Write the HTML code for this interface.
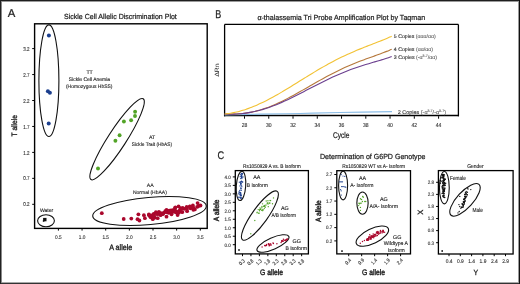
<!DOCTYPE html>
<html><head><meta charset="utf-8"><style>
html,body{margin:0;padding:0;background:#fff;}
body{width:520px;height:284px;overflow:hidden;position:relative;font-family:"Liberation Sans",sans-serif;}
svg{position:absolute;left:0;top:0;will-change:transform;text-rendering:geometricPrecision;}
</style></head><body>
<svg width="520" height="284" viewBox="0 0 520 284" font-family="Liberation Sans, sans-serif">
<rect x="0" y="0" width="520" height="284" fill="#fff"/>
<rect x="0" y="1" width="520" height="1" fill="#9a9a9a"/>
<rect x="0" y="282" width="520" height="1" fill="#a8a8a8"/>
<rect x="1" y="0" width="1" height="284" fill="#8a8a8a"/>
<rect x="518" y="0" width="1" height="284" fill="#9a9a9a"/>
<rect x="0" y="0" width="520" height="1" fill="#1e1e1e"/>
<rect x="0" y="283" width="520" height="1" fill="#333"/>
<rect x="0" y="0" width="1" height="284" fill="#222"/>
<rect x="519" y="0" width="1" height="284" fill="#111"/>
<text x="7.80" y="17.30" font-size="11.3" fill="#222" text-anchor="start" stroke="#222" stroke-width="0.22" >A</text>
<text x="64.00" y="19.00" font-size="7.4" fill="#222" text-anchor="start" stroke="#222" stroke-width="0.22" textLength="112.80" lengthAdjust="spacingAndGlyphs" >Sickle Cell Allelic Discrimination Plot</text>
<rect x="34.60" y="23.80" width="172.60" height="204.60" fill="none" stroke="#000" stroke-width="1.4"/>
<line x1="32.20" y1="48.60" x2="34.60" y2="48.60" stroke="#000" stroke-width="1"/>
<text x="29.50" y="50.70" font-size="5.6" fill="#333" text-anchor="end" stroke="#333" stroke-width="0.12" textLength="6.30" lengthAdjust="spacingAndGlyphs" >3.2</text>
<line x1="32.20" y1="74.55" x2="34.60" y2="74.55" stroke="#000" stroke-width="1"/>
<text x="29.50" y="76.65" font-size="5.6" fill="#333" text-anchor="end" stroke="#333" stroke-width="0.12" textLength="6.30" lengthAdjust="spacingAndGlyphs" >2.7</text>
<line x1="32.20" y1="100.50" x2="34.60" y2="100.50" stroke="#000" stroke-width="1"/>
<text x="29.50" y="102.60" font-size="5.6" fill="#333" text-anchor="end" stroke="#333" stroke-width="0.12" textLength="6.30" lengthAdjust="spacingAndGlyphs" >2.2</text>
<line x1="32.20" y1="126.45" x2="34.60" y2="126.45" stroke="#000" stroke-width="1"/>
<text x="29.50" y="128.55" font-size="5.6" fill="#333" text-anchor="end" stroke="#333" stroke-width="0.12" textLength="6.30" lengthAdjust="spacingAndGlyphs" >1.7</text>
<line x1="32.20" y1="152.40" x2="34.60" y2="152.40" stroke="#000" stroke-width="1"/>
<text x="29.50" y="154.50" font-size="5.6" fill="#333" text-anchor="end" stroke="#333" stroke-width="0.12" textLength="6.30" lengthAdjust="spacingAndGlyphs" >1.2</text>
<line x1="32.20" y1="178.35" x2="34.60" y2="178.35" stroke="#000" stroke-width="1"/>
<text x="29.50" y="180.45" font-size="5.6" fill="#333" text-anchor="end" stroke="#333" stroke-width="0.12" textLength="6.30" lengthAdjust="spacingAndGlyphs" >0.7</text>
<line x1="32.20" y1="204.30" x2="34.60" y2="204.30" stroke="#000" stroke-width="1"/>
<text x="29.50" y="206.40" font-size="5.6" fill="#333" text-anchor="end" stroke="#333" stroke-width="0.12" textLength="6.30" lengthAdjust="spacingAndGlyphs" >0.2</text>
<line x1="58.40" y1="228.40" x2="58.40" y2="230.60" stroke="#000" stroke-width="1"/>
<text x="58.40" y="238.90" font-size="5.4" fill="#333" text-anchor="middle" stroke="#333" stroke-width="0.12" textLength="6.60" lengthAdjust="spacingAndGlyphs" >0.5</text>
<line x1="82.05" y1="228.40" x2="82.05" y2="230.60" stroke="#000" stroke-width="1"/>
<text x="82.05" y="238.90" font-size="5.4" fill="#333" text-anchor="middle" stroke="#333" stroke-width="0.12" textLength="6.60" lengthAdjust="spacingAndGlyphs" >1.0</text>
<line x1="105.70" y1="228.40" x2="105.70" y2="230.60" stroke="#000" stroke-width="1"/>
<text x="105.70" y="238.90" font-size="5.4" fill="#333" text-anchor="middle" stroke="#333" stroke-width="0.12" textLength="6.60" lengthAdjust="spacingAndGlyphs" >1.5</text>
<line x1="129.35" y1="228.40" x2="129.35" y2="230.60" stroke="#000" stroke-width="1"/>
<text x="129.35" y="238.90" font-size="5.4" fill="#333" text-anchor="middle" stroke="#333" stroke-width="0.12" textLength="6.60" lengthAdjust="spacingAndGlyphs" >2.0</text>
<line x1="153.00" y1="228.40" x2="153.00" y2="230.60" stroke="#000" stroke-width="1"/>
<text x="153.00" y="238.90" font-size="5.4" fill="#333" text-anchor="middle" stroke="#333" stroke-width="0.12" textLength="6.60" lengthAdjust="spacingAndGlyphs" >2.5</text>
<line x1="176.65" y1="228.40" x2="176.65" y2="230.60" stroke="#000" stroke-width="1"/>
<text x="176.65" y="238.90" font-size="5.4" fill="#333" text-anchor="middle" stroke="#333" stroke-width="0.12" textLength="6.60" lengthAdjust="spacingAndGlyphs" >3.0</text>
<line x1="200.30" y1="228.40" x2="200.30" y2="230.60" stroke="#000" stroke-width="1"/>
<text x="200.30" y="238.90" font-size="5.4" fill="#333" text-anchor="middle" stroke="#333" stroke-width="0.12" textLength="6.60" lengthAdjust="spacingAndGlyphs" >3.5</text>
<text x="109.20" y="250.00" font-size="7.9" fill="#222" text-anchor="start" stroke="#222" stroke-width="0.35" textLength="23.10" lengthAdjust="spacingAndGlyphs" >A allele</text>
<text x="0" y="0" font-size="7.9" fill="#222" stroke="#222" stroke-width="0.35" font-family="Liberation Sans, sans-serif" textLength="21.4" lengthAdjust="spacingAndGlyphs" transform="translate(16.7,136.4) rotate(-90)">T allele</text>
<ellipse cx="48.90" cy="80.70" rx="10.00" ry="55.80" transform="rotate(0.00 48.90 80.70)" fill="none" stroke="#111" stroke-width="1.1"/>
<ellipse cx="117.10" cy="139.20" rx="48.10" ry="9.00" transform="rotate(-57.10 117.10 139.20)" fill="none" stroke="#111" stroke-width="1.1"/>
<ellipse cx="149.50" cy="211.00" rx="57.00" ry="13.60" transform="rotate(-5.20 149.50 211.00)" fill="none" stroke="#111" stroke-width="1.1"/>
<ellipse cx="46.00" cy="220.70" rx="8.40" ry="6.00" transform="rotate(0.00 46.00 220.70)" fill="none" stroke="#111" stroke-width="1.1"/>
<text x="89.60" y="74.30" font-size="5.2" fill="#222" text-anchor="middle" stroke="#222" stroke-width="0.12" >TT</text>
<text x="89.40" y="80.90" font-size="5.2" fill="#222" text-anchor="middle" stroke="#222" stroke-width="0.12" textLength="41.30" lengthAdjust="spacingAndGlyphs" >Sickle Cell Anemia</text>
<text x="89.20" y="87.90" font-size="5.2" fill="#222" text-anchor="middle" stroke="#222" stroke-width="0.12" textLength="46.50" lengthAdjust="spacingAndGlyphs" >(Homozygous HbSS)</text>
<text x="152.10" y="139.00" font-size="5.2" fill="#222" text-anchor="middle" stroke="#222" stroke-width="0.12" >AT</text>
<text x="151.90" y="145.70" font-size="5.2" fill="#222" text-anchor="middle" stroke="#222" stroke-width="0.12" textLength="40.40" lengthAdjust="spacingAndGlyphs" >Sickle Trait (HbAS)</text>
<text x="150.20" y="187.10" font-size="5.2" fill="#222" text-anchor="middle" stroke="#222" stroke-width="0.12" >AA</text>
<text x="149.90" y="193.70" font-size="5.2" fill="#222" text-anchor="middle" stroke="#222" stroke-width="0.12" textLength="34.00" lengthAdjust="spacingAndGlyphs" >Normal (HbAA)</text>
<text x="46.60" y="211.90" font-size="5.2" fill="#222" text-anchor="middle" stroke="#222" stroke-width="0.12" textLength="13.30" lengthAdjust="spacingAndGlyphs" >Water</text>
<circle cx="48.90" cy="35.40" r="2.0" fill="#1c3f8e"/>
<circle cx="47.90" cy="91.20" r="2.0" fill="#1c3f8e"/>
<circle cx="49.90" cy="92.70" r="2.0" fill="#1c3f8e"/>
<circle cx="48.70" cy="123.50" r="2.0" fill="#1c3f8e"/>
<circle cx="135.10" cy="111.80" r="1.95" fill="#52a427"/>
<circle cx="135.00" cy="116.00" r="1.95" fill="#52a427"/>
<circle cx="131.10" cy="120.20" r="1.95" fill="#52a427"/>
<circle cx="123.90" cy="121.50" r="1.95" fill="#52a427"/>
<circle cx="119.60" cy="135.20" r="1.95" fill="#52a427"/>
<circle cx="115.40" cy="140.80" r="1.95" fill="#52a427"/>
<circle cx="98.00" cy="168.50" r="1.95" fill="#52a427"/>
<circle cx="101.80" cy="213.20" r="1.9" fill="#aa072c"/>
<circle cx="123.70" cy="219.00" r="1.9" fill="#aa072c"/>
<circle cx="131.30" cy="218.60" r="1.9" fill="#aa072c"/>
<circle cx="138.40" cy="214.30" r="1.9" fill="#aa072c"/>
<circle cx="137.50" cy="219.20" r="1.9" fill="#aa072c"/>
<circle cx="139.40" cy="220.50" r="1.9" fill="#aa072c"/>
<circle cx="143.90" cy="215.20" r="1.9" fill="#aa072c"/>
<circle cx="144.90" cy="218.20" r="1.9" fill="#aa072c"/>
<circle cx="149.80" cy="215.70" r="1.9" fill="#aa072c"/>
<circle cx="151.70" cy="217.20" r="1.9" fill="#aa072c"/>
<circle cx="153.70" cy="213.80" r="1.9" fill="#aa072c"/>
<circle cx="154.70" cy="217.70" r="1.9" fill="#aa072c"/>
<circle cx="157.70" cy="218.20" r="1.9" fill="#aa072c"/>
<circle cx="158.60" cy="213.80" r="1.9" fill="#aa072c"/>
<circle cx="160.60" cy="215.20" r="1.9" fill="#aa072c"/>
<circle cx="163.60" cy="212.80" r="1.9" fill="#aa072c"/>
<circle cx="166.50" cy="209.80" r="1.9" fill="#aa072c"/>
<circle cx="166.50" cy="216.70" r="1.9" fill="#aa072c"/>
<circle cx="168.50" cy="212.80" r="1.9" fill="#aa072c"/>
<circle cx="172.40" cy="210.30" r="1.9" fill="#aa072c"/>
<circle cx="171.50" cy="214.30" r="1.9" fill="#aa072c"/>
<circle cx="173.90" cy="211.80" r="1.9" fill="#aa072c"/>
<circle cx="171.00" cy="212.60" r="1.9" fill="#aa072c"/>
<circle cx="173.80" cy="210.20" r="1.9" fill="#aa072c"/>
<circle cx="178.60" cy="206.40" r="1.9" fill="#aa072c"/>
<circle cx="177.60" cy="215.00" r="1.9" fill="#aa072c"/>
<circle cx="179.50" cy="210.70" r="1.9" fill="#aa072c"/>
<circle cx="182.40" cy="212.10" r="1.9" fill="#aa072c"/>
<circle cx="184.30" cy="208.80" r="1.9" fill="#aa072c"/>
<circle cx="186.70" cy="206.90" r="1.9" fill="#aa072c"/>
<circle cx="187.10" cy="211.20" r="1.9" fill="#aa072c"/>
<circle cx="190.50" cy="208.30" r="1.9" fill="#aa072c"/>
<circle cx="192.90" cy="205.50" r="1.9" fill="#aa072c"/>
<circle cx="193.30" cy="209.80" r="1.9" fill="#aa072c"/>
<circle cx="197.60" cy="203.10" r="1.9" fill="#aa072c"/>
<circle cx="198.60" cy="206.00" r="1.9" fill="#aa072c"/>
<circle cx="200.50" cy="205.50" r="1.9" fill="#aa072c"/>
<circle cx="197.10" cy="206.90" r="1.9" fill="#aa072c"/>
<circle cx="162.87" cy="214.18" r="1.9" fill="#aa072c"/>
<circle cx="150.55" cy="217.18" r="1.9" fill="#aa072c"/>
<circle cx="173.26" cy="210.38" r="1.9" fill="#aa072c"/>
<circle cx="171.86" cy="211.44" r="1.9" fill="#aa072c"/>
<circle cx="148.84" cy="215.08" r="1.9" fill="#aa072c"/>
<circle cx="151.44" cy="215.36" r="1.9" fill="#aa072c"/>
<circle cx="167.80" cy="212.22" r="1.9" fill="#aa072c"/>
<circle cx="157.94" cy="213.08" r="1.9" fill="#aa072c"/>
<circle cx="177.74" cy="211.84" r="1.9" fill="#aa072c"/>
<circle cx="166.44" cy="211.44" r="1.9" fill="#aa072c"/>
<circle cx="194.84" cy="209.46" r="1.9" fill="#aa072c"/>
<circle cx="161.19" cy="214.07" r="1.9" fill="#aa072c"/>
<circle cx="154.07" cy="215.60" r="1.9" fill="#aa072c"/>
<circle cx="186.99" cy="208.93" r="1.9" fill="#aa072c"/>
<circle cx="155.86" cy="212.24" r="1.9" fill="#aa072c"/>
<circle cx="165.25" cy="211.23" r="1.9" fill="#aa072c"/>
<circle cx="173.84" cy="211.15" r="1.9" fill="#aa072c"/>
<circle cx="157.09" cy="214.20" r="1.9" fill="#aa072c"/>
<circle cx="180.34" cy="208.08" r="1.9" fill="#aa072c"/>
<circle cx="175.69" cy="210.87" r="1.9" fill="#aa072c"/>
<circle cx="169.21" cy="210.68" r="1.9" fill="#aa072c"/>
<circle cx="181.25" cy="211.86" r="1.9" fill="#aa072c"/>
<circle cx="158.96" cy="211.86" r="1.9" fill="#aa072c"/>
<circle cx="189.88" cy="206.54" r="1.9" fill="#aa072c"/>
<circle cx="182.74" cy="207.79" r="1.9" fill="#aa072c"/>
<circle cx="152.79" cy="219.20" r="1.9" fill="#aa072c"/>
<circle cx="167.49" cy="211.94" r="1.9" fill="#aa072c"/>
<circle cx="170.96" cy="210.29" r="1.9" fill="#aa072c"/>
<circle cx="148.92" cy="214.28" r="1.9" fill="#aa072c"/>
<circle cx="175.08" cy="208.01" r="1.9" fill="#aa072c"/>
<circle cx="189.90" cy="206.46" r="1.9" fill="#aa072c"/>
<circle cx="176.12" cy="212.45" r="1.9" fill="#aa072c"/>
<circle cx="175.41" cy="207.37" r="1.9" fill="#aa072c"/>
<circle cx="193.29" cy="207.57" r="1.9" fill="#aa072c"/>
<circle cx="170.23" cy="211.06" r="1.9" fill="#aa072c"/>
<circle cx="181.37" cy="208.64" r="1.9" fill="#aa072c"/>
<circle cx="178.71" cy="212.63" r="1.9" fill="#aa072c"/>
<circle cx="160.95" cy="213.08" r="1.9" fill="#aa072c"/>
<circle cx="165.90" cy="212.05" r="1.9" fill="#aa072c"/>
<circle cx="169.62" cy="211.18" r="1.9" fill="#aa072c"/>
<rect x="43.1" y="217.9" width="3.4" height="3.4" fill="#111"/>
<circle cx="43.60" cy="220.90" r="0.9" fill="#111"/>
<text x="215.2" y="17.7" font-size="11.4" fill="#222" stroke="#222" stroke-width="0.25" font-family="Liberation Sans, sans-serif" textLength="6.0" lengthAdjust="spacingAndGlyphs">B</text>
<text x="257.40" y="19.80" font-size="7.4" fill="#222" text-anchor="start" stroke="#222" stroke-width="0.22" textLength="167.70" lengthAdjust="spacingAndGlyphs" >α-thalassemia Tri Probe Amplification Plot by Taqman</text>
<line x1="224.60" y1="24.40" x2="458.40" y2="24.40" stroke="#000" stroke-width="1.3"/>
<line x1="224.60" y1="24.40" x2="224.60" y2="116.30" stroke="#000" stroke-width="1.3"/>
<line x1="458.40" y1="24.40" x2="458.40" y2="116.30" stroke="#000" stroke-width="1.3"/>
<line x1="224.00" y1="115.60" x2="459.00" y2="115.60" stroke="#000" stroke-width="1.5"/>
<line x1="244.50" y1="116.20" x2="244.50" y2="118.70" stroke="#000" stroke-width="1"/>
<text x="244.50" y="127.10" font-size="5.8" fill="#333" text-anchor="middle" stroke="#333" stroke-width="0.12" textLength="5.60" lengthAdjust="spacingAndGlyphs" >28</text>
<line x1="268.76" y1="116.20" x2="268.76" y2="118.70" stroke="#000" stroke-width="1"/>
<text x="268.76" y="127.10" font-size="5.8" fill="#333" text-anchor="middle" stroke="#333" stroke-width="0.12" textLength="5.60" lengthAdjust="spacingAndGlyphs" >30</text>
<line x1="293.02" y1="116.20" x2="293.02" y2="118.70" stroke="#000" stroke-width="1"/>
<text x="293.02" y="127.10" font-size="5.8" fill="#333" text-anchor="middle" stroke="#333" stroke-width="0.12" textLength="5.60" lengthAdjust="spacingAndGlyphs" >32</text>
<line x1="317.28" y1="116.20" x2="317.28" y2="118.70" stroke="#000" stroke-width="1"/>
<text x="317.28" y="127.10" font-size="5.8" fill="#333" text-anchor="middle" stroke="#333" stroke-width="0.12" textLength="5.60" lengthAdjust="spacingAndGlyphs" >34</text>
<line x1="341.54" y1="116.20" x2="341.54" y2="118.70" stroke="#000" stroke-width="1"/>
<text x="341.54" y="127.10" font-size="5.8" fill="#333" text-anchor="middle" stroke="#333" stroke-width="0.12" textLength="5.60" lengthAdjust="spacingAndGlyphs" >36</text>
<line x1="365.80" y1="116.20" x2="365.80" y2="118.70" stroke="#000" stroke-width="1"/>
<text x="365.80" y="127.10" font-size="5.8" fill="#333" text-anchor="middle" stroke="#333" stroke-width="0.12" textLength="5.60" lengthAdjust="spacingAndGlyphs" >38</text>
<line x1="390.06" y1="116.20" x2="390.06" y2="118.70" stroke="#000" stroke-width="1"/>
<text x="390.06" y="127.10" font-size="5.8" fill="#333" text-anchor="middle" stroke="#333" stroke-width="0.12" textLength="5.60" lengthAdjust="spacingAndGlyphs" >40</text>
<line x1="414.32" y1="116.20" x2="414.32" y2="118.70" stroke="#000" stroke-width="1"/>
<text x="414.32" y="127.10" font-size="5.8" fill="#333" text-anchor="middle" stroke="#333" stroke-width="0.12" textLength="5.60" lengthAdjust="spacingAndGlyphs" >42</text>
<line x1="438.58" y1="116.20" x2="438.58" y2="118.70" stroke="#000" stroke-width="1"/>
<text x="438.58" y="127.10" font-size="5.8" fill="#333" text-anchor="middle" stroke="#333" stroke-width="0.12" textLength="5.60" lengthAdjust="spacingAndGlyphs" >44</text>
<text x="333.00" y="137.80" font-size="8.4" fill="#222" text-anchor="start" stroke="#222" stroke-width="0.22" textLength="16.50" lengthAdjust="spacingAndGlyphs" >Cycle</text>
<text x="0" y="0" font-size="6.2" fill="#222" font-family="Liberation Sans, sans-serif" textLength="13.4" lengthAdjust="spacingAndGlyphs" transform="translate(219.2,76.8) rotate(-90)">ΔRn</text>
<path d="M224.70,114.80 C230.58,114.70 247.45,114.42 260.00,114.20 C272.55,113.98 286.67,113.78 300.00,113.50 C313.33,113.22 324.67,112.82 340.00,112.50 C355.33,112.18 383.33,111.75 392.00,111.60" fill="none" stroke="#8cbde6" stroke-width="1.2" stroke-linejoin="round"/>
<path d="M224.70,114.06 C225.20,114.07 226.70,114.13 227.70,114.15 C228.70,114.18 229.70,114.19 230.70,114.19 C231.70,114.19 232.70,114.17 233.70,114.15 C234.70,114.12 235.70,114.08 236.70,114.03 C237.70,113.97 238.70,113.91 239.70,113.82 C240.70,113.74 241.70,113.64 242.70,113.53 C243.70,113.42 244.70,113.29 245.70,113.14 C246.70,113.00 247.70,112.84 248.70,112.66 C249.70,112.49 250.70,112.30 251.70,112.09 C252.70,111.88 253.70,111.66 254.70,111.42 C255.70,111.18 256.70,110.92 257.70,110.65 C258.70,110.38 259.70,110.09 260.70,109.79 C261.70,109.48 262.70,109.17 263.70,108.83 C264.70,108.50 265.70,108.15 266.70,107.79 C267.70,107.43 268.70,107.05 269.70,106.67 C270.70,106.28 271.70,105.87 272.70,105.46 C273.70,105.04 274.70,104.61 275.70,104.17 C276.70,103.73 277.70,103.28 278.70,102.82 C279.70,102.35 280.70,101.88 281.70,101.40 C282.70,100.91 283.70,100.42 284.70,99.92 C285.70,99.41 286.70,98.90 287.70,98.38 C288.70,97.86 289.70,97.33 290.70,96.80 C291.70,96.26 292.70,95.72 293.70,95.18 C294.70,94.63 295.70,94.08 296.70,93.52 C297.70,92.96 298.70,92.40 299.70,91.84 C300.70,91.27 301.70,90.70 302.70,90.13 C303.70,89.56 304.70,88.99 305.70,88.42 C306.70,87.84 307.70,87.27 308.70,86.70 C309.70,86.12 310.70,85.55 311.70,84.97 C312.70,84.40 313.70,83.83 314.70,83.26 C315.70,82.69 316.70,82.12 317.70,81.55 C318.70,80.99 319.70,80.43 320.70,79.87 C321.70,79.31 322.70,78.75 323.70,78.21 C324.70,77.66 325.70,77.11 326.70,76.57 C327.70,76.03 328.70,75.50 329.70,74.97 C330.70,74.45 331.70,73.93 332.70,73.41 C333.70,72.90 334.70,72.39 335.70,71.89 C336.70,71.39 337.70,70.90 338.70,70.41 C339.70,69.93 340.70,69.45 341.70,68.98 C342.70,68.51 343.70,68.05 344.70,67.59 C345.70,67.14 346.70,66.69 347.70,66.25 C348.70,65.81 349.70,65.38 350.70,64.96 C351.70,64.53 352.70,64.12 353.70,63.71 C354.70,63.30 355.70,62.90 356.70,62.50 C357.70,62.11 358.70,61.72 359.70,61.33 C360.70,60.95 361.70,60.57 362.70,60.20 C363.70,59.83 364.70,59.46 365.70,59.09 C366.70,58.73 367.70,58.37 368.70,58.01 C369.70,57.65 370.70,57.29 371.70,56.94 C372.70,56.58 373.70,56.23 374.70,55.87 C375.70,55.51 376.70,55.15 377.70,54.79 C378.70,54.43 379.70,54.07 380.70,53.70 C381.70,53.32 382.70,52.95 383.70,52.56 C384.70,52.18 385.70,51.79 386.70,51.38 C387.70,50.98 388.87,50.49 389.70,50.14 C390.53,49.78 391.37,49.40 391.70,49.26" fill="none" stroke="#b5773a" stroke-width="1.1" stroke-linejoin="round"/>
<path d="M224.70,114.10 C225.20,114.11 226.70,114.15 227.70,114.15 C228.70,114.16 229.70,114.16 230.70,114.15 C231.70,114.14 232.70,114.12 233.70,114.09 C234.70,114.05 235.70,114.01 236.70,113.95 C237.70,113.90 238.70,113.83 239.70,113.75 C240.70,113.67 241.70,113.57 242.70,113.46 C243.70,113.36 244.70,113.23 245.70,113.10 C246.70,112.96 247.70,112.81 248.70,112.65 C249.70,112.49 250.70,112.31 251.70,112.12 C252.70,111.93 253.70,111.72 254.70,111.50 C255.70,111.28 256.70,111.05 257.70,110.80 C258.70,110.55 259.70,110.29 260.70,110.01 C261.70,109.73 262.70,109.44 263.70,109.14 C264.70,108.84 265.70,108.52 266.70,108.19 C267.70,107.86 268.70,107.52 269.70,107.17 C270.70,106.81 271.70,106.45 272.70,106.07 C273.70,105.69 274.70,105.30 275.70,104.90 C276.70,104.50 277.70,104.09 278.70,103.67 C279.70,103.25 280.70,102.82 281.70,102.38 C282.70,101.94 283.70,101.49 284.70,101.04 C285.70,100.58 286.70,100.12 287.70,99.64 C288.70,99.17 289.70,98.69 290.70,98.21 C291.70,97.72 292.70,97.23 293.70,96.74 C294.70,96.24 295.70,95.74 296.70,95.24 C297.70,94.73 298.70,94.22 299.70,93.71 C300.70,93.20 301.70,92.68 302.70,92.17 C303.70,91.65 304.70,91.13 305.70,90.61 C306.70,90.09 307.70,89.57 308.70,89.05 C309.70,88.53 310.70,88.01 311.70,87.50 C312.70,86.98 313.70,86.46 314.70,85.95 C315.70,85.43 316.70,84.92 317.70,84.41 C318.70,83.90 319.70,83.39 320.70,82.89 C321.70,82.39 322.70,81.89 323.70,81.39 C324.70,80.90 325.70,80.41 326.70,79.93 C327.70,79.44 328.70,78.96 329.70,78.49 C330.70,78.02 331.70,77.55 332.70,77.09 C333.70,76.63 334.70,76.18 335.70,75.73 C336.70,75.29 337.70,74.85 338.70,74.42 C339.70,73.99 340.70,73.56 341.70,73.15 C342.70,72.73 343.70,72.32 344.70,71.92 C345.70,71.52 346.70,71.13 347.70,70.74 C348.70,70.36 349.70,69.98 350.70,69.61 C351.70,69.24 352.70,68.88 353.70,68.53 C354.70,68.17 355.70,67.82 356.70,67.48 C357.70,67.14 358.70,66.81 359.70,66.48 C360.70,66.15 361.70,65.83 362.70,65.51 C363.70,65.20 364.70,64.89 365.70,64.58 C366.70,64.27 367.70,63.97 368.70,63.67 C369.70,63.37 370.70,63.08 371.70,62.78 C372.70,62.49 373.70,62.19 374.70,61.90 C375.70,61.61 376.70,61.32 377.70,61.02 C378.70,60.73 379.70,60.43 380.70,60.13 C381.70,59.83 382.70,59.53 383.70,59.22 C384.70,58.91 385.70,58.59 386.70,58.27 C387.70,57.94 388.87,57.55 389.70,57.26 C390.53,56.98 391.37,56.67 391.70,56.56" fill="none" stroke="#6b3f8f" stroke-width="1.1" stroke-linejoin="round"/>
<path d="M224.70,114.00 C225.20,113.94 226.70,113.77 227.70,113.64 C228.70,113.50 229.70,113.34 230.70,113.17 C231.70,113.00 232.70,112.82 233.70,112.61 C234.70,112.41 235.70,112.19 236.70,111.95 C237.70,111.72 238.70,111.47 239.70,111.20 C240.70,110.93 241.70,110.64 242.70,110.34 C243.70,110.04 244.70,109.73 245.70,109.40 C246.70,109.07 247.70,108.72 248.70,108.36 C249.70,108.00 250.70,107.62 251.70,107.23 C252.70,106.84 253.70,106.44 254.70,106.02 C255.70,105.61 256.70,105.18 257.70,104.73 C258.70,104.29 259.70,103.83 260.70,103.37 C261.70,102.90 262.70,102.42 263.70,101.93 C264.70,101.44 265.70,100.94 266.70,100.43 C267.70,99.92 268.70,99.39 269.70,98.86 C270.70,98.33 271.70,97.79 272.70,97.24 C273.70,96.69 274.70,96.14 275.70,95.57 C276.70,95.01 277.70,94.43 278.70,93.86 C279.70,93.28 280.70,92.69 281.70,92.10 C282.70,91.51 283.70,90.92 284.70,90.31 C285.70,89.71 286.70,89.11 287.70,88.50 C288.70,87.89 289.70,87.28 290.70,86.66 C291.70,86.05 292.70,85.43 293.70,84.81 C294.70,84.19 295.70,83.57 296.70,82.95 C297.70,82.33 298.70,81.71 299.70,81.09 C300.70,80.46 301.70,79.84 302.70,79.22 C303.70,78.60 304.70,77.98 305.70,77.36 C306.70,76.75 307.70,76.13 308.70,75.52 C309.70,74.90 310.70,74.29 311.70,73.69 C312.70,73.08 313.70,72.48 314.70,71.88 C315.70,71.28 316.70,70.68 317.70,70.09 C318.70,69.50 319.70,68.92 320.70,68.34 C321.70,67.76 322.70,67.19 323.70,66.62 C324.70,66.05 325.70,65.49 326.70,64.93 C327.70,64.38 328.70,63.83 329.70,63.28 C330.70,62.74 331.70,62.21 332.70,61.68 C333.70,61.15 334.70,60.63 335.70,60.11 C336.70,59.60 337.70,59.09 338.70,58.59 C339.70,58.09 340.70,57.60 341.70,57.11 C342.70,56.63 343.70,56.15 344.70,55.68 C345.70,55.21 346.70,54.75 347.70,54.29 C348.70,53.83 349.70,53.39 350.70,52.94 C351.70,52.50 352.70,52.06 353.70,51.63 C354.70,51.20 355.70,50.78 356.70,50.36 C357.70,49.94 358.70,49.53 359.70,49.12 C360.70,48.71 361.70,48.31 362.70,47.91 C363.70,47.51 364.70,47.12 365.70,46.72 C366.70,46.33 367.70,45.94 368.70,45.55 C369.70,45.16 370.70,44.78 371.70,44.39 C372.70,44.00 373.70,43.62 374.70,43.23 C375.70,42.84 376.70,42.45 377.70,42.06 C378.70,41.67 379.70,41.27 380.70,40.87 C381.70,40.47 382.70,40.07 383.70,39.66 C384.70,39.25 385.70,38.83 386.70,38.40 C387.70,37.97 388.87,37.46 389.70,37.09 C390.53,36.72 391.37,36.33 391.70,36.17" fill="none" stroke="#f2c234" stroke-width="1.1" stroke-linejoin="round"/>
<text x="393.8" y="38.3" font-size="5.2" fill="#333" stroke="#333" stroke-width="0.12" font-family="Liberation Sans, sans-serif" textLength="42.0" lengthAdjust="spacingAndGlyphs">5 Copies <tspan fill="#666" stroke="#666">(ααα/αα)</tspan></text>
<text x="393.8" y="50.8" font-size="5.2" fill="#333" stroke="#333" stroke-width="0.12" font-family="Liberation Sans, sans-serif" textLength="39.2" lengthAdjust="spacingAndGlyphs">4 Copies <tspan fill="#666" stroke="#666">(αα/αα)</tspan></text>
<text x="393.8" y="59.0" font-size="5.2" fill="#333" stroke="#333" stroke-width="0.12" font-family="Liberation Sans, sans-serif" textLength="43.2" lengthAdjust="spacingAndGlyphs">3 Copies <tspan fill="#666" stroke="#666">(-α</tspan><tspan dy="-1.8" font-size="3.6" fill="#666" stroke="#666">3.7</tspan><tspan dy="1.8" fill="#666" stroke="#666">/αα)</tspan></text>
<text x="397.7" y="113.7" font-size="5.4" fill="#333" stroke="#333" stroke-width="0.12" font-family="Liberation Sans, sans-serif" textLength="48.3" lengthAdjust="spacingAndGlyphs">2 Copies <tspan fill="#666" stroke="#666">(-α</tspan><tspan dy="-1.8" font-size="3.6" fill="#666" stroke="#666">3.7</tspan><tspan dy="1.8" fill="#666" stroke="#666">/-α</tspan><tspan dy="-1.8" font-size="3.6" fill="#666" stroke="#666">3.7</tspan><tspan dy="1.8" fill="#666" stroke="#666">)</tspan></text>
<text x="217.40" y="158.80" font-size="11.0" fill="#222" text-anchor="start" stroke="#222" stroke-width="0.22" textLength="6.60" lengthAdjust="spacingAndGlyphs" >C</text>
<text x="320.00" y="158.50" font-size="7.4" fill="#222" text-anchor="start" stroke="#222" stroke-width="0.22" textLength="105.50" lengthAdjust="spacingAndGlyphs" >Determination of G6PD Genotype</text>
<rect x="235.30" y="170.60" width="73.10" height="83.30" fill="none" stroke="#000" stroke-width="1.3"/>
<text x="243.10" y="167.80" font-size="5.4" fill="#222" text-anchor="start" stroke="#222" stroke-width="0.12" textLength="57.60" lengthAdjust="spacingAndGlyphs" >Rs1050829 A vs. B Isoform</text>
<line x1="232.80" y1="176.90" x2="235.30" y2="176.90" stroke="#000" stroke-width="1"/>
<text x="230.80" y="178.70" font-size="5.0" fill="#333" text-anchor="end" stroke="#333" stroke-width="0.12" textLength="6.30" lengthAdjust="spacingAndGlyphs" >4.0</text>
<line x1="232.80" y1="185.38" x2="235.30" y2="185.38" stroke="#000" stroke-width="1"/>
<text x="230.80" y="187.18" font-size="5.0" fill="#333" text-anchor="end" stroke="#333" stroke-width="0.12" textLength="6.30" lengthAdjust="spacingAndGlyphs" >3.5</text>
<line x1="232.80" y1="193.85" x2="235.30" y2="193.85" stroke="#000" stroke-width="1"/>
<text x="230.80" y="195.65" font-size="5.0" fill="#333" text-anchor="end" stroke="#333" stroke-width="0.12" textLength="6.30" lengthAdjust="spacingAndGlyphs" >3.0</text>
<line x1="232.80" y1="202.32" x2="235.30" y2="202.32" stroke="#000" stroke-width="1"/>
<text x="230.80" y="204.12" font-size="5.0" fill="#333" text-anchor="end" stroke="#333" stroke-width="0.12" textLength="6.30" lengthAdjust="spacingAndGlyphs" >2.5</text>
<line x1="232.80" y1="210.80" x2="235.30" y2="210.80" stroke="#000" stroke-width="1"/>
<text x="230.80" y="212.60" font-size="5.0" fill="#333" text-anchor="end" stroke="#333" stroke-width="0.12" textLength="6.30" lengthAdjust="spacingAndGlyphs" >2.0</text>
<line x1="232.80" y1="219.28" x2="235.30" y2="219.28" stroke="#000" stroke-width="1"/>
<text x="230.80" y="221.08" font-size="5.0" fill="#333" text-anchor="end" stroke="#333" stroke-width="0.12" textLength="6.30" lengthAdjust="spacingAndGlyphs" >1.5</text>
<line x1="232.80" y1="227.75" x2="235.30" y2="227.75" stroke="#000" stroke-width="1"/>
<text x="230.80" y="229.55" font-size="5.0" fill="#333" text-anchor="end" stroke="#333" stroke-width="0.12" textLength="6.30" lengthAdjust="spacingAndGlyphs" >1.0</text>
<line x1="232.80" y1="236.22" x2="235.30" y2="236.22" stroke="#000" stroke-width="1"/>
<text x="230.80" y="238.03" font-size="5.0" fill="#333" text-anchor="end" stroke="#333" stroke-width="0.12" textLength="6.30" lengthAdjust="spacingAndGlyphs" >0.5</text>
<line x1="232.80" y1="244.70" x2="235.30" y2="244.70" stroke="#000" stroke-width="1"/>
<text x="230.80" y="246.50" font-size="5.0" fill="#333" text-anchor="end" stroke="#333" stroke-width="0.12" textLength="6.30" lengthAdjust="spacingAndGlyphs" >0.0</text>
<line x1="242.50" y1="253.90" x2="242.50" y2="256.20" stroke="#000" stroke-width="1"/>
<text x="0" y="0" font-size="5.0" fill="#333" stroke="#333" stroke-width="0.1" font-family="Liberation Sans, sans-serif" text-anchor="end" textLength="6.4" lengthAdjust="spacingAndGlyphs" transform="translate(245.30,261.10) rotate(-45)">0.3</text>
<line x1="250.95" y1="253.90" x2="250.95" y2="256.20" stroke="#000" stroke-width="1"/>
<text x="0" y="0" font-size="5.0" fill="#333" stroke="#333" stroke-width="0.1" font-family="Liberation Sans, sans-serif" text-anchor="end" textLength="6.4" lengthAdjust="spacingAndGlyphs" transform="translate(253.75,261.10) rotate(-45)">0.8</text>
<line x1="259.40" y1="253.90" x2="259.40" y2="256.20" stroke="#000" stroke-width="1"/>
<text x="0" y="0" font-size="5.0" fill="#333" stroke="#333" stroke-width="0.1" font-family="Liberation Sans, sans-serif" text-anchor="end" textLength="6.4" lengthAdjust="spacingAndGlyphs" transform="translate(262.20,261.10) rotate(-45)">1.3</text>
<line x1="267.85" y1="253.90" x2="267.85" y2="256.20" stroke="#000" stroke-width="1"/>
<text x="0" y="0" font-size="5.0" fill="#333" stroke="#333" stroke-width="0.1" font-family="Liberation Sans, sans-serif" text-anchor="end" textLength="6.4" lengthAdjust="spacingAndGlyphs" transform="translate(270.65,261.10) rotate(-45)">1.8</text>
<line x1="276.30" y1="253.90" x2="276.30" y2="256.20" stroke="#000" stroke-width="1"/>
<text x="0" y="0" font-size="5.0" fill="#333" stroke="#333" stroke-width="0.1" font-family="Liberation Sans, sans-serif" text-anchor="end" textLength="6.4" lengthAdjust="spacingAndGlyphs" transform="translate(279.10,261.10) rotate(-45)">2.3</text>
<line x1="284.75" y1="253.90" x2="284.75" y2="256.20" stroke="#000" stroke-width="1"/>
<text x="0" y="0" font-size="5.0" fill="#333" stroke="#333" stroke-width="0.1" font-family="Liberation Sans, sans-serif" text-anchor="end" textLength="6.4" lengthAdjust="spacingAndGlyphs" transform="translate(287.55,261.10) rotate(-45)">2.8</text>
<line x1="293.20" y1="253.90" x2="293.20" y2="256.20" stroke="#000" stroke-width="1"/>
<text x="0" y="0" font-size="5.0" fill="#333" stroke="#333" stroke-width="0.1" font-family="Liberation Sans, sans-serif" text-anchor="end" textLength="6.4" lengthAdjust="spacingAndGlyphs" transform="translate(296.00,261.10) rotate(-45)">3.3</text>
<line x1="301.65" y1="253.90" x2="301.65" y2="256.20" stroke="#000" stroke-width="1"/>
<text x="0" y="0" font-size="5.0" fill="#333" stroke="#333" stroke-width="0.1" font-family="Liberation Sans, sans-serif" text-anchor="end" textLength="6.4" lengthAdjust="spacingAndGlyphs" transform="translate(304.45,261.10) rotate(-45)">3.8</text>
<text x="260.10" y="274.90" font-size="8.0" fill="#222" text-anchor="start" stroke="#222" stroke-width="0.42" textLength="22.90" lengthAdjust="spacingAndGlyphs" >G allele</text>
<text x="0" y="0" font-size="7.8" fill="#222" stroke="#222" stroke-width="0.42" font-family="Liberation Sans, sans-serif" textLength="21.7" lengthAdjust="spacingAndGlyphs" transform="translate(219.4,221.3) rotate(-90)">A allele</text>
<ellipse cx="241.00" cy="185.90" rx="4.70" ry="14.70" transform="rotate(4.00 241.00 185.90)" fill="none" stroke="#111" stroke-width="1.1"/>
<ellipse cx="259.90" cy="215.60" rx="29.80" ry="7.80" transform="rotate(-54.40 259.90 215.60)" fill="none" stroke="#111" stroke-width="1.1"/>
<ellipse cx="272.95" cy="243.50" rx="17.40" ry="5.75" transform="rotate(-24.00 272.95 243.50)" fill="none" stroke="#111" stroke-width="1.1"/>
<text x="256.80" y="179.40" font-size="5.4" fill="#222" text-anchor="middle" stroke="#222" stroke-width="0.12" >AA</text>
<text x="257.30" y="186.50" font-size="5.4" fill="#222" text-anchor="middle" stroke="#222" stroke-width="0.12" textLength="21.00" lengthAdjust="spacingAndGlyphs" >B Isoform</text>
<text x="284.80" y="210.00" font-size="5.4" fill="#222" text-anchor="middle" stroke="#222" stroke-width="0.12" >AG</text>
<text x="283.70" y="217.00" font-size="5.4" fill="#222" text-anchor="middle" stroke="#222" stroke-width="0.12" textLength="24.60" lengthAdjust="spacingAndGlyphs" >A/B Isoform</text>
<text x="296.70" y="243.10" font-size="5.4" fill="#222" text-anchor="middle" stroke="#222" stroke-width="0.12" >GG</text>
<text x="296.20" y="250.10" font-size="5.4" fill="#222" text-anchor="middle" stroke="#222" stroke-width="0.12" textLength="21.50" lengthAdjust="spacingAndGlyphs" >B Isoform</text>
<circle cx="241.72" cy="177.09" r="0.65" fill="#1c3f8e"/>
<circle cx="240.63" cy="192.39" r="0.65" fill="#1c3f8e"/>
<circle cx="241.60" cy="176.10" r="0.65" fill="#1c3f8e"/>
<circle cx="241.06" cy="195.02" r="0.65" fill="#1c3f8e"/>
<circle cx="240.71" cy="174.85" r="0.65" fill="#1c3f8e"/>
<circle cx="240.55" cy="195.33" r="0.65" fill="#1c3f8e"/>
<circle cx="240.78" cy="193.69" r="0.65" fill="#1c3f8e"/>
<circle cx="240.59" cy="183.39" r="0.65" fill="#1c3f8e"/>
<circle cx="242.68" cy="181.95" r="0.65" fill="#1c3f8e"/>
<circle cx="240.21" cy="176.65" r="0.65" fill="#1c3f8e"/>
<circle cx="241.57" cy="177.29" r="0.65" fill="#1c3f8e"/>
<circle cx="241.53" cy="185.17" r="0.65" fill="#1c3f8e"/>
<circle cx="240.76" cy="187.82" r="0.65" fill="#1c3f8e"/>
<circle cx="241.14" cy="183.48" r="0.65" fill="#1c3f8e"/>
<circle cx="239.35" cy="182.22" r="0.65" fill="#1c3f8e"/>
<circle cx="239.78" cy="190.41" r="0.65" fill="#1c3f8e"/>
<circle cx="240.01" cy="185.95" r="0.65" fill="#1c3f8e"/>
<circle cx="240.91" cy="174.18" r="0.65" fill="#1c3f8e"/>
<circle cx="240.51" cy="195.74" r="0.65" fill="#1c3f8e"/>
<circle cx="238.79" cy="193.15" r="0.65" fill="#1c3f8e"/>
<circle cx="240.81" cy="182.81" r="0.65" fill="#1c3f8e"/>
<circle cx="240.90" cy="188.97" r="0.65" fill="#1c3f8e"/>
<circle cx="242.20" cy="174.39" r="0.65" fill="#1c3f8e"/>
<circle cx="241.75" cy="176.94" r="0.65" fill="#1c3f8e"/>
<circle cx="241.22" cy="181.47" r="0.65" fill="#1c3f8e"/>
<circle cx="241.55" cy="176.66" r="0.65" fill="#1c3f8e"/>
<circle cx="241.51" cy="175.39" r="0.65" fill="#1c3f8e"/>
<circle cx="240.39" cy="195.10" r="0.65" fill="#1c3f8e"/>
<circle cx="241.08" cy="188.46" r="0.65" fill="#1c3f8e"/>
<circle cx="241.68" cy="181.66" r="0.65" fill="#1c3f8e"/>
<circle cx="242.28" cy="182.09" r="0.65" fill="#1c3f8e"/>
<circle cx="241.13" cy="198.12" r="0.65" fill="#1c3f8e"/>
<circle cx="240.64" cy="184.68" r="0.65" fill="#1c3f8e"/>
<circle cx="241.67" cy="175.41" r="0.65" fill="#1c3f8e"/>
<circle cx="241.06" cy="181.54" r="0.65" fill="#1c3f8e"/>
<circle cx="243.02" cy="176.92" r="0.65" fill="#1c3f8e"/>
<circle cx="242.71" cy="173.39" r="0.65" fill="#1c3f8e"/>
<circle cx="241.26" cy="176.54" r="0.65" fill="#1c3f8e"/>
<circle cx="241.81" cy="186.65" r="0.65" fill="#1c3f8e"/>
<circle cx="240.23" cy="197.75" r="0.65" fill="#1c3f8e"/>
<circle cx="240.07" cy="194.81" r="0.65" fill="#1c3f8e"/>
<circle cx="240.57" cy="182.15" r="0.65" fill="#1c3f8e"/>
<circle cx="241.65" cy="177.06" r="0.65" fill="#1c3f8e"/>
<circle cx="239.45" cy="192.67" r="0.65" fill="#1c3f8e"/>
<circle cx="241.47" cy="181.21" r="0.65" fill="#1c3f8e"/>
<circle cx="241.50" cy="197.92" r="0.65" fill="#1c3f8e"/>
<circle cx="240.80" cy="194.54" r="0.65" fill="#1c3f8e"/>
<circle cx="239.11" cy="191.67" r="0.65" fill="#1c3f8e"/>
<circle cx="240.66" cy="178.58" r="0.65" fill="#1c3f8e"/>
<circle cx="241.68" cy="173.54" r="0.65" fill="#1c3f8e"/>
<circle cx="241.65" cy="173.51" r="0.65" fill="#1c3f8e"/>
<circle cx="241.19" cy="190.46" r="0.65" fill="#1c3f8e"/>
<circle cx="238.33" cy="197.19" r="0.65" fill="#1c3f8e"/>
<circle cx="240.66" cy="197.99" r="0.65" fill="#1c3f8e"/>
<circle cx="239.74" cy="197.15" r="0.65" fill="#1c3f8e"/>
<circle cx="241.83" cy="178.58" r="0.65" fill="#1c3f8e"/>
<circle cx="241.78" cy="177.82" r="0.65" fill="#1c3f8e"/>
<circle cx="241.28" cy="195.76" r="0.65" fill="#1c3f8e"/>
<circle cx="239.16" cy="194.23" r="0.65" fill="#1c3f8e"/>
<circle cx="240.54" cy="193.19" r="0.65" fill="#1c3f8e"/>
<circle cx="258.19" cy="209.58" r="0.68" fill="#52a427"/>
<circle cx="267.95" cy="200.74" r="0.68" fill="#52a427"/>
<circle cx="267.50" cy="203.19" r="0.68" fill="#52a427"/>
<circle cx="268.05" cy="203.97" r="0.68" fill="#52a427"/>
<circle cx="261.66" cy="210.27" r="0.68" fill="#52a427"/>
<circle cx="262.54" cy="203.84" r="0.68" fill="#52a427"/>
<circle cx="262.62" cy="210.66" r="0.68" fill="#52a427"/>
<circle cx="259.38" cy="209.73" r="0.68" fill="#52a427"/>
<circle cx="258.78" cy="213.25" r="0.68" fill="#52a427"/>
<circle cx="268.29" cy="206.63" r="0.68" fill="#52a427"/>
<circle cx="259.05" cy="213.10" r="0.68" fill="#52a427"/>
<circle cx="266.20" cy="201.05" r="0.68" fill="#52a427"/>
<circle cx="261.91" cy="207.79" r="0.68" fill="#52a427"/>
<circle cx="257.20" cy="212.07" r="0.68" fill="#52a427"/>
<circle cx="270.59" cy="200.59" r="0.68" fill="#52a427"/>
<circle cx="270.07" cy="200.55" r="0.68" fill="#52a427"/>
<circle cx="263.07" cy="209.93" r="0.68" fill="#52a427"/>
<circle cx="259.95" cy="207.88" r="0.68" fill="#52a427"/>
<circle cx="260.53" cy="209.39" r="0.68" fill="#52a427"/>
<circle cx="265.21" cy="207.26" r="0.68" fill="#52a427"/>
<circle cx="260.63" cy="208.86" r="0.68" fill="#52a427"/>
<circle cx="269.74" cy="202.93" r="0.68" fill="#52a427"/>
<circle cx="261.95" cy="206.44" r="0.68" fill="#52a427"/>
<circle cx="269.66" cy="203.14" r="0.68" fill="#52a427"/>
<circle cx="262.89" cy="209.62" r="0.68" fill="#52a427"/>
<circle cx="264.45" cy="205.66" r="0.68" fill="#52a427"/>
<circle cx="264.33" cy="208.56" r="0.68" fill="#52a427"/>
<circle cx="259.56" cy="210.70" r="0.68" fill="#52a427"/>
<circle cx="257.06" cy="212.77" r="0.68" fill="#52a427"/>
<circle cx="263.63" cy="206.30" r="0.68" fill="#52a427"/>
<circle cx="267.15" cy="203.11" r="0.68" fill="#52a427"/>
<circle cx="264.26" cy="206.27" r="0.68" fill="#52a427"/>
<circle cx="264.78" cy="206.56" r="0.68" fill="#52a427"/>
<circle cx="264.84" cy="205.55" r="0.68" fill="#52a427"/>
<circle cx="250.80" cy="233.80" r="0.68" fill="#52a427"/>
<circle cx="254.80" cy="220.50" r="0.68" fill="#52a427"/>
<circle cx="273.50" cy="197.90" r="0.68" fill="#52a427"/>
<circle cx="272.50" cy="203.80" r="0.68" fill="#52a427"/>
<circle cx="266.00" cy="205.00" r="0.68" fill="#52a427"/>
<circle cx="268.00" cy="203.00" r="0.68" fill="#52a427"/>
<circle cx="262.10" cy="247.00" r="0.72" fill="#aa072c"/>
<circle cx="276.90" cy="243.80" r="0.72" fill="#aa072c"/>
<circle cx="287.00" cy="239.40" r="0.72" fill="#aa072c"/>
<circle cx="286.00" cy="240.20" r="0.72" fill="#aa072c"/>
<circle cx="287.50" cy="239.00" r="0.72" fill="#aa072c"/>
<circle cx="285.50" cy="240.80" r="0.72" fill="#aa072c"/>
<circle cx="266.48" cy="245.34" r="0.72" fill="#aa072c"/>
<circle cx="269.08" cy="245.71" r="0.72" fill="#aa072c"/>
<circle cx="269.62" cy="244.70" r="0.72" fill="#aa072c"/>
<circle cx="268.43" cy="243.75" r="0.72" fill="#aa072c"/>
<circle cx="270.13" cy="243.83" r="0.72" fill="#aa072c"/>
<circle cx="270.93" cy="244.24" r="0.72" fill="#aa072c"/>
<circle cx="268.52" cy="244.32" r="0.72" fill="#aa072c"/>
<circle cx="273.42" cy="243.43" r="0.72" fill="#aa072c"/>
<circle cx="270.99" cy="245.18" r="0.72" fill="#aa072c"/>
<circle cx="266.60" cy="244.55" r="0.72" fill="#aa072c"/>
<circle cx="269.60" cy="245.62" r="0.72" fill="#aa072c"/>
<circle cx="265.37" cy="245.45" r="0.72" fill="#aa072c"/>
<circle cx="265.22" cy="245.66" r="0.72" fill="#aa072c"/>
<circle cx="266.41" cy="245.60" r="0.72" fill="#aa072c"/>
<circle cx="264.73" cy="245.53" r="0.72" fill="#aa072c"/>
<circle cx="272.97" cy="242.85" r="0.72" fill="#aa072c"/>
<circle cx="281.93" cy="241.33" r="0.72" fill="#aa072c"/>
<circle cx="281.86" cy="240.80" r="0.72" fill="#aa072c"/>
<circle cx="286.30" cy="239.86" r="0.72" fill="#aa072c"/>
<circle cx="286.72" cy="239.26" r="0.72" fill="#aa072c"/>
<circle cx="283.39" cy="239.31" r="0.72" fill="#aa072c"/>
<circle cx="285.99" cy="239.77" r="0.72" fill="#aa072c"/>
<circle cx="281.97" cy="240.92" r="0.72" fill="#aa072c"/>
<circle cx="283.03" cy="241.24" r="0.72" fill="#aa072c"/>
<circle cx="282.17" cy="241.04" r="0.72" fill="#aa072c"/>
<circle cx="281.12" cy="242.57" r="0.72" fill="#aa072c"/>
<circle cx="284.32" cy="240.32" r="0.72" fill="#aa072c"/>
<circle cx="282.99" cy="241.04" r="0.72" fill="#aa072c"/>
<rect x="238.2" y="249.2" width="1.6" height="1.6" fill="#111"/>
<rect x="336.80" y="170.70" width="73.70" height="83.20" fill="none" stroke="#000" stroke-width="1.3"/>
<text x="342.30" y="167.80" font-size="5.4" fill="#222" text-anchor="start" stroke="#222" stroke-width="0.12" textLength="62.70" lengthAdjust="spacingAndGlyphs" >Rs1050829 WT vs A- Isoform</text>
<line x1="334.30" y1="174.50" x2="336.80" y2="174.50" stroke="#000" stroke-width="1"/>
<text x="332.30" y="176.30" font-size="5.0" fill="#333" text-anchor="end" stroke="#333" stroke-width="0.12" textLength="6.30" lengthAdjust="spacingAndGlyphs" >2.7</text>
<line x1="334.30" y1="187.78" x2="336.80" y2="187.78" stroke="#000" stroke-width="1"/>
<text x="332.30" y="189.58" font-size="5.0" fill="#333" text-anchor="end" stroke="#333" stroke-width="0.12" textLength="6.30" lengthAdjust="spacingAndGlyphs" >2.2</text>
<line x1="334.30" y1="201.06" x2="336.80" y2="201.06" stroke="#000" stroke-width="1"/>
<text x="332.30" y="202.86" font-size="5.0" fill="#333" text-anchor="end" stroke="#333" stroke-width="0.12" textLength="6.30" lengthAdjust="spacingAndGlyphs" >1.7</text>
<line x1="334.30" y1="214.34" x2="336.80" y2="214.34" stroke="#000" stroke-width="1"/>
<text x="332.30" y="216.14" font-size="5.0" fill="#333" text-anchor="end" stroke="#333" stroke-width="0.12" textLength="6.30" lengthAdjust="spacingAndGlyphs" >1.2</text>
<line x1="334.30" y1="227.62" x2="336.80" y2="227.62" stroke="#000" stroke-width="1"/>
<text x="332.30" y="229.42" font-size="5.0" fill="#333" text-anchor="end" stroke="#333" stroke-width="0.12" textLength="6.30" lengthAdjust="spacingAndGlyphs" >0.7</text>
<line x1="334.30" y1="240.90" x2="336.80" y2="240.90" stroke="#000" stroke-width="1"/>
<text x="332.30" y="242.70" font-size="5.0" fill="#333" text-anchor="end" stroke="#333" stroke-width="0.12" textLength="6.30" lengthAdjust="spacingAndGlyphs" >0.2</text>
<line x1="348.70" y1="253.90" x2="348.70" y2="256.20" stroke="#000" stroke-width="1"/>
<text x="0" y="0" font-size="5.0" fill="#333" stroke="#333" stroke-width="0.1" font-family="Liberation Sans, sans-serif" text-anchor="end" textLength="6.4" lengthAdjust="spacingAndGlyphs" transform="translate(351.50,260.50) rotate(-45)">0.4</text>
<line x1="361.67" y1="253.90" x2="361.67" y2="256.20" stroke="#000" stroke-width="1"/>
<text x="0" y="0" font-size="5.0" fill="#333" stroke="#333" stroke-width="0.1" font-family="Liberation Sans, sans-serif" text-anchor="end" textLength="6.4" lengthAdjust="spacingAndGlyphs" transform="translate(364.47,260.50) rotate(-45)">0.9</text>
<line x1="374.64" y1="253.90" x2="374.64" y2="256.20" stroke="#000" stroke-width="1"/>
<text x="0" y="0" font-size="5.0" fill="#333" stroke="#333" stroke-width="0.1" font-family="Liberation Sans, sans-serif" text-anchor="end" textLength="6.4" lengthAdjust="spacingAndGlyphs" transform="translate(377.44,260.50) rotate(-45)">1.4</text>
<line x1="387.61" y1="253.90" x2="387.61" y2="256.20" stroke="#000" stroke-width="1"/>
<text x="0" y="0" font-size="5.0" fill="#333" stroke="#333" stroke-width="0.1" font-family="Liberation Sans, sans-serif" text-anchor="end" textLength="6.4" lengthAdjust="spacingAndGlyphs" transform="translate(390.41,260.50) rotate(-45)">1.9</text>
<line x1="400.58" y1="253.90" x2="400.58" y2="256.20" stroke="#000" stroke-width="1"/>
<text x="0" y="0" font-size="5.0" fill="#333" stroke="#333" stroke-width="0.1" font-family="Liberation Sans, sans-serif" text-anchor="end" textLength="6.4" lengthAdjust="spacingAndGlyphs" transform="translate(403.38,260.50) rotate(-45)">2.4</text>
<text x="362.00" y="274.90" font-size="8.0" fill="#222" text-anchor="start" stroke="#222" stroke-width="0.42" textLength="23.00" lengthAdjust="spacingAndGlyphs" >G allele</text>
<text x="0" y="0" font-size="7.8" fill="#222" stroke="#222" stroke-width="0.42" font-family="Liberation Sans, sans-serif" textLength="21.7" lengthAdjust="spacingAndGlyphs" transform="translate(320.8,222) rotate(-90)">A allele</text>
<ellipse cx="343.10" cy="185.50" rx="4.50" ry="14.40" transform="rotate(0.00 343.10 185.50)" fill="none" stroke="#111" stroke-width="1.1"/>
<ellipse cx="362.50" cy="203.10" rx="5.65" ry="11.15" transform="rotate(0.00 362.50 203.10)" fill="none" stroke="#111" stroke-width="1.1"/>
<ellipse cx="372.35" cy="236.15" rx="17.70" ry="7.40" transform="rotate(-25.70 372.35 236.15)" fill="none" stroke="#111" stroke-width="1.1"/>
<text x="362.60" y="180.20" font-size="5.4" fill="#222" text-anchor="middle" stroke="#222" stroke-width="0.12" >AA</text>
<text x="361.80" y="186.50" font-size="5.4" fill="#222" text-anchor="middle" stroke="#222" stroke-width="0.12" textLength="23.20" lengthAdjust="spacingAndGlyphs" >A- Isoform</text>
<text x="383.80" y="201.20" font-size="5.4" fill="#222" text-anchor="middle" stroke="#222" stroke-width="0.12" >AG</text>
<text x="383.70" y="208.00" font-size="5.4" fill="#222" text-anchor="middle" stroke="#222" stroke-width="0.12" textLength="28.40" lengthAdjust="spacingAndGlyphs" >A/A- Isoform</text>
<text x="397.20" y="238.70" font-size="5.4" fill="#222" text-anchor="middle" stroke="#222" stroke-width="0.12" >GG</text>
<text x="395.90" y="245.00" font-size="5.4" fill="#222" text-anchor="middle" stroke="#222" stroke-width="0.12" textLength="24.30" lengthAdjust="spacingAndGlyphs" >Wildtype A</text>
<text x="396.40" y="251.80" font-size="5.4" fill="#222" text-anchor="middle" stroke="#222" stroke-width="0.12" textLength="16.90" lengthAdjust="spacingAndGlyphs" >Isoform</text>
<circle cx="341.20" cy="174.60" r="0.62" fill="#1c3f8e"/>
<circle cx="344.80" cy="176.40" r="0.62" fill="#1c3f8e"/>
<circle cx="339.60" cy="181.80" r="0.62" fill="#1c3f8e"/>
<circle cx="340.60" cy="181.80" r="0.62" fill="#1c3f8e"/>
<circle cx="341.60" cy="181.80" r="0.62" fill="#1c3f8e"/>
<circle cx="342.50" cy="181.80" r="0.62" fill="#1c3f8e"/>
<circle cx="341.60" cy="186.60" r="0.62" fill="#1c3f8e"/>
<circle cx="342.70" cy="186.60" r="0.62" fill="#1c3f8e"/>
<circle cx="343.80" cy="186.60" r="0.62" fill="#1c3f8e"/>
<circle cx="344.90" cy="186.90" r="0.62" fill="#1c3f8e"/>
<circle cx="345.80" cy="187.20" r="0.62" fill="#1c3f8e"/>
<circle cx="340.60" cy="189.60" r="0.62" fill="#1c3f8e"/>
<circle cx="341.20" cy="190.80" r="0.62" fill="#1c3f8e"/>
<circle cx="341.40" cy="195.00" r="0.62" fill="#1c3f8e"/>
<circle cx="343.00" cy="176.00" r="0.62" fill="#1c3f8e"/>
<circle cx="360.40" cy="198.70" r="0.72" fill="#52a427"/>
<circle cx="362.70" cy="196.40" r="0.72" fill="#52a427"/>
<circle cx="363.20" cy="197.30" r="0.72" fill="#52a427"/>
<circle cx="362.40" cy="201.50" r="0.72" fill="#52a427"/>
<circle cx="364.80" cy="201.50" r="0.72" fill="#52a427"/>
<circle cx="365.70" cy="201.50" r="0.72" fill="#52a427"/>
<circle cx="359.00" cy="203.30" r="0.72" fill="#52a427"/>
<circle cx="360.20" cy="203.30" r="0.72" fill="#52a427"/>
<circle cx="361.30" cy="203.10" r="0.72" fill="#52a427"/>
<circle cx="358.60" cy="205.60" r="0.72" fill="#52a427"/>
<circle cx="360.40" cy="207.40" r="0.72" fill="#52a427"/>
<circle cx="360.40" cy="210.40" r="0.72" fill="#52a427"/>
<circle cx="359.50" cy="203.80" r="0.72" fill="#52a427"/>
<circle cx="361.50" cy="199.50" r="0.72" fill="#52a427"/>
<circle cx="360.30" cy="243.30" r="0.72" fill="#aa072c"/>
<circle cx="362.50" cy="241.50" r="0.72" fill="#aa072c"/>
<circle cx="364.40" cy="240.50" r="0.72" fill="#aa072c"/>
<circle cx="384.60" cy="232.30" r="0.72" fill="#aa072c"/>
<circle cx="377.11" cy="233.60" r="0.72" fill="#aa072c"/>
<circle cx="383.25" cy="230.99" r="0.72" fill="#aa072c"/>
<circle cx="379.90" cy="233.26" r="0.72" fill="#aa072c"/>
<circle cx="371.01" cy="236.97" r="0.72" fill="#aa072c"/>
<circle cx="367.17" cy="239.15" r="0.72" fill="#aa072c"/>
<circle cx="368.70" cy="237.24" r="0.72" fill="#aa072c"/>
<circle cx="373.68" cy="237.72" r="0.72" fill="#aa072c"/>
<circle cx="370.90" cy="235.91" r="0.72" fill="#aa072c"/>
<circle cx="369.04" cy="239.47" r="0.72" fill="#aa072c"/>
<circle cx="378.41" cy="232.63" r="0.72" fill="#aa072c"/>
<circle cx="368.02" cy="240.33" r="0.72" fill="#aa072c"/>
<circle cx="373.73" cy="236.40" r="0.72" fill="#aa072c"/>
<circle cx="367.73" cy="240.33" r="0.72" fill="#aa072c"/>
<circle cx="380.13" cy="231.90" r="0.72" fill="#aa072c"/>
<circle cx="367.92" cy="238.88" r="0.72" fill="#aa072c"/>
<circle cx="381.17" cy="231.69" r="0.72" fill="#aa072c"/>
<circle cx="374.21" cy="234.65" r="0.72" fill="#aa072c"/>
<circle cx="382.25" cy="232.86" r="0.72" fill="#aa072c"/>
<circle cx="371.05" cy="238.10" r="0.72" fill="#aa072c"/>
<circle cx="370.55" cy="238.41" r="0.72" fill="#aa072c"/>
<circle cx="368.36" cy="238.59" r="0.72" fill="#aa072c"/>
<circle cx="369.93" cy="237.95" r="0.72" fill="#aa072c"/>
<circle cx="371.80" cy="235.96" r="0.72" fill="#aa072c"/>
<circle cx="371.43" cy="238.85" r="0.72" fill="#aa072c"/>
<circle cx="375.00" cy="235.60" r="0.72" fill="#aa072c"/>
<circle cx="366.81" cy="240.19" r="0.72" fill="#aa072c"/>
<circle cx="370.76" cy="239.22" r="0.72" fill="#aa072c"/>
<circle cx="375.87" cy="234.87" r="0.72" fill="#aa072c"/>
<circle cx="369.72" cy="234.83" r="0.72" fill="#aa072c"/>
<circle cx="368.31" cy="238.87" r="0.72" fill="#aa072c"/>
<circle cx="380.42" cy="231.09" r="0.72" fill="#aa072c"/>
<circle cx="380.69" cy="232.89" r="0.72" fill="#aa072c"/>
<circle cx="373.18" cy="234.09" r="0.72" fill="#aa072c"/>
<circle cx="383.20" cy="230.97" r="0.72" fill="#aa072c"/>
<circle cx="372.33" cy="237.39" r="0.72" fill="#aa072c"/>
<circle cx="377.31" cy="232.26" r="0.72" fill="#aa072c"/>
<circle cx="373.38" cy="235.66" r="0.72" fill="#aa072c"/>
<circle cx="368.71" cy="238.55" r="0.72" fill="#aa072c"/>
<circle cx="367.70" cy="238.65" r="0.72" fill="#aa072c"/>
<circle cx="369.28" cy="236.97" r="0.72" fill="#aa072c"/>
<circle cx="367.94" cy="239.96" r="0.72" fill="#aa072c"/>
<circle cx="377.90" cy="231.54" r="0.72" fill="#aa072c"/>
<circle cx="371.29" cy="236.98" r="0.72" fill="#aa072c"/>
<circle cx="374.31" cy="236.48" r="0.72" fill="#aa072c"/>
<circle cx="369.18" cy="237.06" r="0.72" fill="#aa072c"/>
<circle cx="382.85" cy="231.55" r="0.72" fill="#aa072c"/>
<circle cx="383.03" cy="230.23" r="0.72" fill="#aa072c"/>
<circle cx="382.92" cy="230.92" r="0.72" fill="#aa072c"/>
<circle cx="371.76" cy="236.66" r="0.72" fill="#aa072c"/>
<circle cx="372.99" cy="236.14" r="0.72" fill="#aa072c"/>
<circle cx="374.57" cy="234.48" r="0.72" fill="#aa072c"/>
<circle cx="375.08" cy="235.05" r="0.72" fill="#aa072c"/>
<circle cx="366.58" cy="239.21" r="0.72" fill="#aa072c"/>
<circle cx="373.29" cy="236.48" r="0.72" fill="#aa072c"/>
<circle cx="367.21" cy="240.00" r="0.72" fill="#aa072c"/>
<circle cx="370.46" cy="237.49" r="0.72" fill="#aa072c"/>
<circle cx="376.45" cy="232.33" r="0.72" fill="#aa072c"/>
<circle cx="377.68" cy="233.40" r="0.72" fill="#aa072c"/>
<circle cx="378.67" cy="234.19" r="0.72" fill="#aa072c"/>
<circle cx="372.04" cy="235.71" r="0.72" fill="#aa072c"/>
<circle cx="383.24" cy="232.21" r="0.72" fill="#aa072c"/>
<circle cx="377.43" cy="235.52" r="0.72" fill="#aa072c"/>
<circle cx="367.24" cy="240.28" r="0.72" fill="#aa072c"/>
<circle cx="377.16" cy="231.76" r="0.72" fill="#aa072c"/>
<circle cx="378.98" cy="233.40" r="0.72" fill="#aa072c"/>
<circle cx="375.40" cy="234.27" r="0.72" fill="#aa072c"/>
<circle cx="375.07" cy="236.21" r="0.72" fill="#aa072c"/>
<circle cx="380.55" cy="230.41" r="0.72" fill="#aa072c"/>
<circle cx="376.43" cy="235.87" r="0.72" fill="#aa072c"/>
<circle cx="378.29" cy="232.29" r="0.72" fill="#aa072c"/>
<circle cx="370.41" cy="238.02" r="0.72" fill="#aa072c"/>
<circle cx="372.63" cy="236.40" r="0.72" fill="#aa072c"/>
<circle cx="368.28" cy="239.24" r="0.72" fill="#aa072c"/>
<circle cx="377.17" cy="232.66" r="0.72" fill="#aa072c"/>
<circle cx="377.15" cy="233.43" r="0.72" fill="#aa072c"/>
<rect x="341.2" y="250.3" width="1.6" height="1.6" fill="#111"/>
<rect x="438.40" y="170.60" width="74.70" height="83.40" fill="none" stroke="#000" stroke-width="1.3"/>
<text x="467.20" y="167.70" font-size="5.7" fill="#222" text-anchor="start" stroke="#222" stroke-width="0.12" textLength="16.60" lengthAdjust="spacingAndGlyphs" >Gender</text>
<line x1="436.10" y1="182.30" x2="438.60" y2="182.30" stroke="#000" stroke-width="1"/>
<text x="434.10" y="184.10" font-size="5.0" fill="#333" text-anchor="end" stroke="#333" stroke-width="0.12" textLength="6.30" lengthAdjust="spacingAndGlyphs" >2.8</text>
<line x1="436.10" y1="194.38" x2="438.60" y2="194.38" stroke="#000" stroke-width="1"/>
<text x="434.10" y="196.18" font-size="5.0" fill="#333" text-anchor="end" stroke="#333" stroke-width="0.12" textLength="6.30" lengthAdjust="spacingAndGlyphs" >2.3</text>
<line x1="436.10" y1="206.46" x2="438.60" y2="206.46" stroke="#000" stroke-width="1"/>
<text x="434.10" y="208.26" font-size="5.0" fill="#333" text-anchor="end" stroke="#333" stroke-width="0.12" textLength="6.30" lengthAdjust="spacingAndGlyphs" >1.8</text>
<line x1="436.10" y1="218.54" x2="438.60" y2="218.54" stroke="#000" stroke-width="1"/>
<text x="434.10" y="220.34" font-size="5.0" fill="#333" text-anchor="end" stroke="#333" stroke-width="0.12" textLength="6.30" lengthAdjust="spacingAndGlyphs" >1.3</text>
<line x1="436.10" y1="230.62" x2="438.60" y2="230.62" stroke="#000" stroke-width="1"/>
<text x="434.10" y="232.42" font-size="5.0" fill="#333" text-anchor="end" stroke="#333" stroke-width="0.12" textLength="6.30" lengthAdjust="spacingAndGlyphs" >0.8</text>
<line x1="436.10" y1="242.70" x2="438.60" y2="242.70" stroke="#000" stroke-width="1"/>
<text x="434.10" y="244.50" font-size="5.0" fill="#333" text-anchor="end" stroke="#333" stroke-width="0.12" textLength="6.30" lengthAdjust="spacingAndGlyphs" >0.3</text>
<line x1="449.00" y1="254.00" x2="449.00" y2="256.20" stroke="#000" stroke-width="1"/>
<text x="449.10" y="262.70" font-size="5.4" fill="#333" text-anchor="middle" stroke="#333" stroke-width="0.12" textLength="6.80" lengthAdjust="spacingAndGlyphs" >0.4</text>
<line x1="460.30" y1="254.00" x2="460.30" y2="256.20" stroke="#000" stroke-width="1"/>
<text x="460.40" y="262.70" font-size="5.4" fill="#333" text-anchor="middle" stroke="#333" stroke-width="0.12" textLength="6.80" lengthAdjust="spacingAndGlyphs" >0.9</text>
<line x1="471.60" y1="254.00" x2="471.60" y2="256.20" stroke="#000" stroke-width="1"/>
<text x="471.70" y="262.70" font-size="5.4" fill="#333" text-anchor="middle" stroke="#333" stroke-width="0.12" textLength="6.80" lengthAdjust="spacingAndGlyphs" >1.4</text>
<line x1="482.90" y1="254.00" x2="482.90" y2="256.20" stroke="#000" stroke-width="1"/>
<text x="483.00" y="262.70" font-size="5.4" fill="#333" text-anchor="middle" stroke="#333" stroke-width="0.12" textLength="6.80" lengthAdjust="spacingAndGlyphs" >1.9</text>
<line x1="494.20" y1="254.00" x2="494.20" y2="256.20" stroke="#000" stroke-width="1"/>
<text x="494.30" y="262.70" font-size="5.4" fill="#333" text-anchor="middle" stroke="#333" stroke-width="0.12" textLength="6.80" lengthAdjust="spacingAndGlyphs" >2.4</text>
<line x1="505.50" y1="254.00" x2="505.50" y2="256.20" stroke="#000" stroke-width="1"/>
<text x="505.60" y="262.70" font-size="5.4" fill="#333" text-anchor="middle" stroke="#333" stroke-width="0.12" textLength="6.80" lengthAdjust="spacingAndGlyphs" >2.9</text>
<text x="475.8" y="275.0" font-size="7.6" fill="#222" stroke="#222" stroke-width="0.3" text-anchor="middle" font-family="Liberation Sans, sans-serif" textLength="4.6" lengthAdjust="spacingAndGlyphs">Y</text>
<text x="0" y="0" font-size="7.6" fill="#222" stroke="#222" stroke-width="0.3" font-family="Liberation Sans, sans-serif" text-anchor="middle" transform="translate(422.6,212.1) rotate(-90)">X</text>
<ellipse cx="444.35" cy="187.65" rx="4.90" ry="16.20" transform="rotate(0.00 444.35 187.65)" fill="none" stroke="#111" stroke-width="1.1"/>
<ellipse cx="465.00" cy="199.85" rx="20.80" ry="8.00" transform="rotate(-47.70 465.00 199.85)" fill="none" stroke="#111" stroke-width="1.1"/>
<text x="450.00" y="179.70" font-size="5.8" fill="#222" text-anchor="start" stroke="#222" stroke-width="0.12" textLength="15.80" lengthAdjust="spacingAndGlyphs" >Female</text>
<text x="472.60" y="211.80" font-size="5.8" fill="#222" text-anchor="start" stroke="#222" stroke-width="0.12" textLength="10.40" lengthAdjust="spacingAndGlyphs" >Male</text>
<circle cx="442.77" cy="174.68" r="0.8" fill="#111"/>
<circle cx="443.39" cy="192.95" r="0.8" fill="#111"/>
<circle cx="442.10" cy="186.91" r="0.8" fill="#111"/>
<circle cx="444.30" cy="189.76" r="0.8" fill="#111"/>
<circle cx="444.12" cy="180.40" r="0.8" fill="#111"/>
<circle cx="443.31" cy="176.31" r="0.8" fill="#111"/>
<circle cx="445.17" cy="179.32" r="0.8" fill="#111"/>
<circle cx="444.09" cy="191.62" r="0.8" fill="#111"/>
<circle cx="443.21" cy="183.40" r="0.8" fill="#111"/>
<circle cx="442.64" cy="185.62" r="0.8" fill="#111"/>
<circle cx="442.46" cy="188.79" r="0.8" fill="#111"/>
<circle cx="443.70" cy="189.38" r="0.8" fill="#111"/>
<circle cx="443.69" cy="180.44" r="0.8" fill="#111"/>
<circle cx="443.14" cy="191.69" r="0.8" fill="#111"/>
<circle cx="444.13" cy="174.89" r="0.8" fill="#111"/>
<circle cx="443.29" cy="176.00" r="0.8" fill="#111"/>
<circle cx="444.29" cy="190.52" r="0.8" fill="#111"/>
<circle cx="443.22" cy="190.14" r="0.8" fill="#111"/>
<circle cx="444.68" cy="185.29" r="0.8" fill="#111"/>
<circle cx="445.11" cy="185.33" r="0.8" fill="#111"/>
<circle cx="444.98" cy="179.18" r="0.8" fill="#111"/>
<circle cx="443.50" cy="197.10" r="0.8" fill="#111"/>
<circle cx="443.32" cy="185.16" r="0.8" fill="#111"/>
<circle cx="444.04" cy="193.46" r="0.8" fill="#111"/>
<circle cx="443.16" cy="180.78" r="0.8" fill="#111"/>
<circle cx="444.11" cy="179.43" r="0.8" fill="#111"/>
<circle cx="443.26" cy="187.97" r="0.8" fill="#111"/>
<circle cx="441.93" cy="177.86" r="0.8" fill="#111"/>
<circle cx="443.18" cy="177.65" r="0.8" fill="#111"/>
<circle cx="442.15" cy="193.46" r="0.8" fill="#111"/>
<circle cx="443.33" cy="190.78" r="0.8" fill="#111"/>
<circle cx="444.42" cy="179.92" r="0.8" fill="#111"/>
<circle cx="442.99" cy="175.17" r="0.8" fill="#111"/>
<circle cx="442.74" cy="174.68" r="0.8" fill="#111"/>
<circle cx="443.46" cy="181.54" r="0.8" fill="#111"/>
<circle cx="443.11" cy="177.84" r="0.8" fill="#111"/>
<circle cx="443.83" cy="193.93" r="0.8" fill="#111"/>
<circle cx="443.41" cy="174.64" r="0.8" fill="#111"/>
<circle cx="442.25" cy="177.36" r="0.8" fill="#111"/>
<circle cx="443.10" cy="195.91" r="0.8" fill="#111"/>
<circle cx="441.09" cy="181.27" r="0.8" fill="#111"/>
<circle cx="440.25" cy="183.16" r="0.8" fill="#111"/>
<circle cx="444.77" cy="188.15" r="0.8" fill="#111"/>
<circle cx="442.61" cy="182.90" r="0.8" fill="#111"/>
<circle cx="443.61" cy="175.71" r="0.8" fill="#111"/>
<circle cx="443.65" cy="176.94" r="0.8" fill="#111"/>
<circle cx="442.98" cy="196.12" r="0.8" fill="#111"/>
<circle cx="443.27" cy="180.33" r="0.8" fill="#111"/>
<circle cx="444.11" cy="178.97" r="0.8" fill="#111"/>
<circle cx="445.60" cy="183.19" r="0.8" fill="#111"/>
<circle cx="443.06" cy="193.28" r="0.8" fill="#111"/>
<circle cx="444.62" cy="189.11" r="0.8" fill="#111"/>
<circle cx="442.66" cy="187.23" r="0.8" fill="#111"/>
<circle cx="444.33" cy="191.15" r="0.8" fill="#111"/>
<circle cx="443.95" cy="184.97" r="0.8" fill="#111"/>
<circle cx="443.10" cy="191.91" r="0.8" fill="#111"/>
<circle cx="443.01" cy="175.73" r="0.8" fill="#111"/>
<circle cx="443.87" cy="195.92" r="0.8" fill="#111"/>
<circle cx="444.29" cy="182.50" r="0.8" fill="#111"/>
<circle cx="443.19" cy="181.45" r="0.8" fill="#111"/>
<circle cx="440.40" cy="180.58" r="0.8" fill="#111"/>
<circle cx="443.16" cy="189.69" r="0.8" fill="#111"/>
<circle cx="444.73" cy="183.67" r="0.8" fill="#111"/>
<circle cx="443.62" cy="178.45" r="0.8" fill="#111"/>
<circle cx="443.75" cy="195.44" r="0.8" fill="#111"/>
<circle cx="443.85" cy="186.03" r="0.8" fill="#111"/>
<circle cx="444.68" cy="197.52" r="0.8" fill="#111"/>
<circle cx="443.86" cy="184.95" r="0.8" fill="#111"/>
<circle cx="443.70" cy="176.69" r="0.8" fill="#111"/>
<circle cx="444.08" cy="182.46" r="0.8" fill="#111"/>
<circle cx="461.92" cy="203.85" r="0.72" fill="#111"/>
<circle cx="464.98" cy="194.72" r="0.72" fill="#111"/>
<circle cx="464.06" cy="199.41" r="0.72" fill="#111"/>
<circle cx="461.98" cy="207.33" r="0.72" fill="#111"/>
<circle cx="461.62" cy="207.41" r="0.72" fill="#111"/>
<circle cx="466.26" cy="193.31" r="0.72" fill="#111"/>
<circle cx="462.58" cy="204.24" r="0.72" fill="#111"/>
<circle cx="467.41" cy="192.17" r="0.72" fill="#111"/>
<circle cx="463.18" cy="206.64" r="0.72" fill="#111"/>
<circle cx="465.38" cy="192.96" r="0.72" fill="#111"/>
<circle cx="460.76" cy="208.13" r="0.72" fill="#111"/>
<circle cx="467.12" cy="194.83" r="0.72" fill="#111"/>
<circle cx="463.51" cy="202.51" r="0.72" fill="#111"/>
<circle cx="463.82" cy="199.34" r="0.72" fill="#111"/>
<circle cx="464.75" cy="194.43" r="0.72" fill="#111"/>
<circle cx="464.01" cy="199.41" r="0.72" fill="#111"/>
<circle cx="465.93" cy="194.65" r="0.72" fill="#111"/>
<circle cx="464.98" cy="198.37" r="0.72" fill="#111"/>
<circle cx="462.50" cy="204.02" r="0.72" fill="#111"/>
<circle cx="463.31" cy="205.39" r="0.72" fill="#111"/>
<circle cx="464.42" cy="198.40" r="0.72" fill="#111"/>
<circle cx="465.48" cy="198.06" r="0.72" fill="#111"/>
<circle cx="465.18" cy="200.20" r="0.72" fill="#111"/>
<circle cx="465.74" cy="192.76" r="0.72" fill="#111"/>
<circle cx="464.25" cy="203.87" r="0.72" fill="#111"/>
<circle cx="464.29" cy="202.54" r="0.72" fill="#111"/>
<circle cx="464.76" cy="196.63" r="0.72" fill="#111"/>
<circle cx="465.65" cy="196.88" r="0.72" fill="#111"/>
<circle cx="461.78" cy="207.23" r="0.72" fill="#111"/>
<circle cx="465.68" cy="196.93" r="0.72" fill="#111"/>
<circle cx="465.07" cy="196.45" r="0.72" fill="#111"/>
<circle cx="466.17" cy="191.50" r="0.72" fill="#111"/>
<circle cx="463.32" cy="205.10" r="0.72" fill="#111"/>
<circle cx="464.20" cy="203.98" r="0.72" fill="#111"/>
<circle cx="463.02" cy="204.61" r="0.72" fill="#111"/>
<circle cx="465.57" cy="197.30" r="0.72" fill="#111"/>
<circle cx="464.33" cy="201.20" r="0.72" fill="#111"/>
<circle cx="462.91" cy="207.17" r="0.72" fill="#111"/>
<circle cx="465.05" cy="201.38" r="0.72" fill="#111"/>
<circle cx="467.14" cy="194.80" r="0.72" fill="#111"/>
<circle cx="464.23" cy="202.38" r="0.72" fill="#111"/>
<circle cx="466.60" cy="196.61" r="0.72" fill="#111"/>
<circle cx="463.38" cy="201.74" r="0.72" fill="#111"/>
<circle cx="463.38" cy="205.51" r="0.72" fill="#111"/>
<circle cx="464.03" cy="202.03" r="0.72" fill="#111"/>
<circle cx="468.00" cy="189.00" r="0.7" fill="#111"/>
<circle cx="470.80" cy="189.60" r="0.7" fill="#111"/>
<circle cx="459.80" cy="196.40" r="0.7" fill="#111"/>
<circle cx="458.90" cy="204.60" r="0.7" fill="#111"/>
<circle cx="459.80" cy="206.50" r="0.7" fill="#111"/>
<circle cx="458.00" cy="212.90" r="0.7" fill="#111"/>
<circle cx="459.20" cy="211.50" r="0.7" fill="#111"/>
<circle cx="467.50" cy="188.00" r="0.7" fill="#111"/>
<rect x="441.4" y="250.2" width="1.6" height="1.6" fill="#111"/>
</svg>
</body></html>
